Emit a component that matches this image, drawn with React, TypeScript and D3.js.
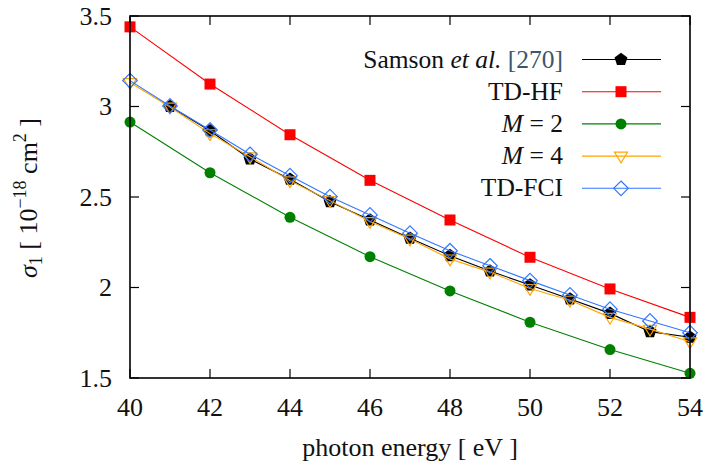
import React from "react";
import * as d3 from "d3";

const xTicks = [40, 42, 44, 46, 48, 50, 52, 54];
const yTicks = [1.5, 2, 2.5, 3, 3.5];
const yTickLabels = ["1.5", "2", "2.5", "3", "3.5"];

const samsonX = [41, 42, 43, 44, 45, 46, 47, 48, 49, 50, 51, 52, 53, 54];
const samsonY = [3.0, 2.866, 2.71, 2.598, 2.474, 2.373, 2.272, 2.176, 2.091, 2.014, 1.936, 1.857, 1.756, 1.725];

const hfX = [40, 42, 44, 46, 48, 50, 52, 54];
const hfY = [3.44, 3.124, 2.844, 2.592, 2.373, 2.167, 1.992, 1.835];

const m2X = [40, 42, 44, 46, 48, 50, 52, 54];
const m2Y = [2.914, 2.634, 2.388, 2.17, 1.981, 1.808, 1.657, 1.526];

const m4X = [40, 41, 42, 43, 44, 45, 46, 47, 48, 49, 50, 51, 52, 53, 54];
const m4Y = [3.133, 2.997, 2.85, 2.722, 2.59, 2.48, 2.365, 2.268, 2.158, 2.085, 1.995, 1.93, 1.835, 1.77, 1.7];

const fciX = [40, 41, 42, 43, 44, 45, 46, 47, 48, 49, 50, 51, 52, 53, 54];
const fciY = [3.143, 3.003, 2.87, 2.736, 2.618, 2.502, 2.401, 2.3, 2.203, 2.12, 2.038, 1.959, 1.88, 1.815, 1.75];

const W = 705, H = 469;
const L = 130, R = 690, T = 16, B = 378;
const FONT = "Liberation Serif";

const xs = d3.scaleLinear().domain([40, 54]).range([L, R]);
const ys = d3.scaleLinear().domain([1.5, 3.5]).range([B, T]);

type Kind = "pent" | "square" | "circle" | "tri" | "diamond";

function Marker({ kind, x, y, color }: { kind: Kind; x: number; y: number; color: string }) {
  if (kind === "pent") {
    const r = 6.8;
    const pts = d3.range(5).map((i) => {
      const a = -Math.PI / 2 + (i * 2 * Math.PI) / 5;
      return [x + r * Math.cos(a), y + r * Math.sin(a)];
    });
    return <polygon points={pts.map((p) => p.join(",")).join(" ")} fill={color} />;
  }
  if (kind === "square") {
    return <rect x={x - 5.5} y={y - 5.5} width={11} height={11} fill={color} />;
  }
  if (kind === "circle") {
    return <circle cx={x} cy={y} r={5.5} fill={color} />;
  }
  if (kind === "tri") {
    const s = 6.5;
    return (
      <polygon
        points={`${x - s},${y - s * 0.6} ${x + s},${y - s * 0.6} ${x},${y + s * 1.05}`}
        fill="none"
        stroke={color}
        strokeWidth={1.2}
      />
    );
  }
  const d = 7.3;
  return (
    <polygon
      points={`${x},${y - d} ${x + d},${y} ${x},${y + d} ${x - d},${y}`}
      fill="none"
      stroke={color}
      strokeWidth={1.2}
    />
  );
}

const series = [
  { xs: hfX, ys: hfY, color: "#ff0000", kind: "square" as Kind },
  { xs: m2X, ys: m2Y, color: "#008000", kind: "circle" as Kind },
  { xs: samsonX, ys: samsonY, color: "#000000", kind: "pent" as Kind },
  { xs: m4X, ys: m4Y, color: "#ffa500", kind: "tri" as Kind },
  { xs: fciX, ys: fciY, color: "#3377ff", kind: "diamond" as Kind },
];

const legendRows = [
  { key: "samson", color: "#000000", kind: "pent" as Kind },
  { key: "hf", color: "#ff0000", kind: "square" as Kind },
  { key: "m2", color: "#008000", kind: "circle" as Kind },
  { key: "m4", color: "#ffa500", kind: "tri" as Kind },
  { key: "fci", color: "#3377ff", kind: "diamond" as Kind },
];

function legendLabel(key: string) {
  if (key === "samson")
    return (
      <>
        Samson <tspan fontStyle="italic">et al.</tspan> <tspan fill="#3b5670">[270]</tspan>
      </>
    );
  if (key === "hf") return <>TD-HF</>;
  if (key === "m2")
    return (
      <>
        <tspan fontStyle="italic">M</tspan> = 2
      </>
    );
  if (key === "m4")
    return (
      <>
        <tspan fontStyle="italic">M</tspan> = 4
      </>
    );
  return <>TD-FCI</>;
}

export default function App() {
  const line = d3
    .line<[number, number]>()
    .x((d) => xs(d[0]))
    .y((d) => ys(d[1]))
    .curve(d3.curveLinear);

  return (
    <svg width={W} height={H} fontFamily={FONT} style={{ position: "absolute", left: 0, top: 0 }}>
      <style>{`text, tspan { font-family: "Liberation Serif", "Times New Roman", serif; }`}</style>
      <rect x={0} y={0} width={W} height={H} fill="white" />
      {xTicks.map((t) => (
        <g key={"xt" + t}>
          <line x1={xs(t)} x2={xs(t)} y1={B} y2={B - 9} stroke="black" strokeWidth={1.2} />
          <line x1={xs(t)} x2={xs(t)} y1={T} y2={T + 9} stroke="black" strokeWidth={1.2} />
          <text x={xs(t)} y={416} fontSize={26} fontFamily={FONT} textAnchor="middle" fill="#111">
            {String(t)}
          </text>
        </g>
      ))}
      {yTicks.map((t, i) => (
        <g key={"yt" + t}>
          <line x1={L} x2={L + 9} y1={ys(t)} y2={ys(t)} stroke="black" strokeWidth={1.2} />
          <line x1={R} x2={R - 9} y1={ys(t)} y2={ys(t)} stroke="black" strokeWidth={1.2} />
          <text x={112} y={ys(t) + 8.5} fontSize={26} fontFamily={FONT} textAnchor="end" fill="#111">
            {yTickLabels[i]}
          </text>
        </g>
      ))}
      {series.map((s, si) => {
        const pts = s.xs.map((x, i) => [x, s.ys[i]] as [number, number]);
        return (
          <g key={"s" + si}>
            <path d={line(pts) || ""} fill="none" stroke={s.color} strokeWidth={1.1} />
            {pts.map((p, i) => (
              <Marker key={i} kind={s.kind} x={xs(p[0])} y={ys(p[1])} color={s.color} />
            ))}
          </g>
        );
      })}
      <rect x={L} y={T} width={R - L} height={B - T} fill="none" stroke="black" strokeWidth={1.6} />
      {legendRows.map((r, i) => {
        const y = 59.5 + i * 32.2;
        return (
          <g key={r.key}>
            <text x={563} y={y + 8} fontSize={25.5} fontFamily={FONT} textAnchor="end" fill="#111">
              {legendLabel(r.key)}
            </text>
            <line x1={582} x2={661} y1={y} y2={y} stroke={r.color} strokeWidth={1.1} />
            <Marker kind={r.kind} x={621} y={y} color={r.color} />
          </g>
        );
      })}
      <text x={410} y={456} fontSize={26} fontFamily={FONT} textAnchor="middle" fill="#111">
        photon energy [ eV ]
      </text>
      <g transform="translate(37,198) rotate(-90)">
        <text x={0} y={0} fontSize={26} fontFamily={FONT} textAnchor="middle" fill="#111">
          <tspan fontStyle="italic">σ</tspan>
          <tspan fontSize={18} dy={5}>1</tspan>
          <tspan dy={-5}> [ 10</tspan>
          <tspan fontSize={18} dy={-11}>−18</tspan>
          <tspan dy={11}> cm</tspan>
          <tspan fontSize={18} dy={-11}>2</tspan>
          <tspan dy={11}> ]</tspan>
        </text>
      </g>
    </svg>
  );
}
